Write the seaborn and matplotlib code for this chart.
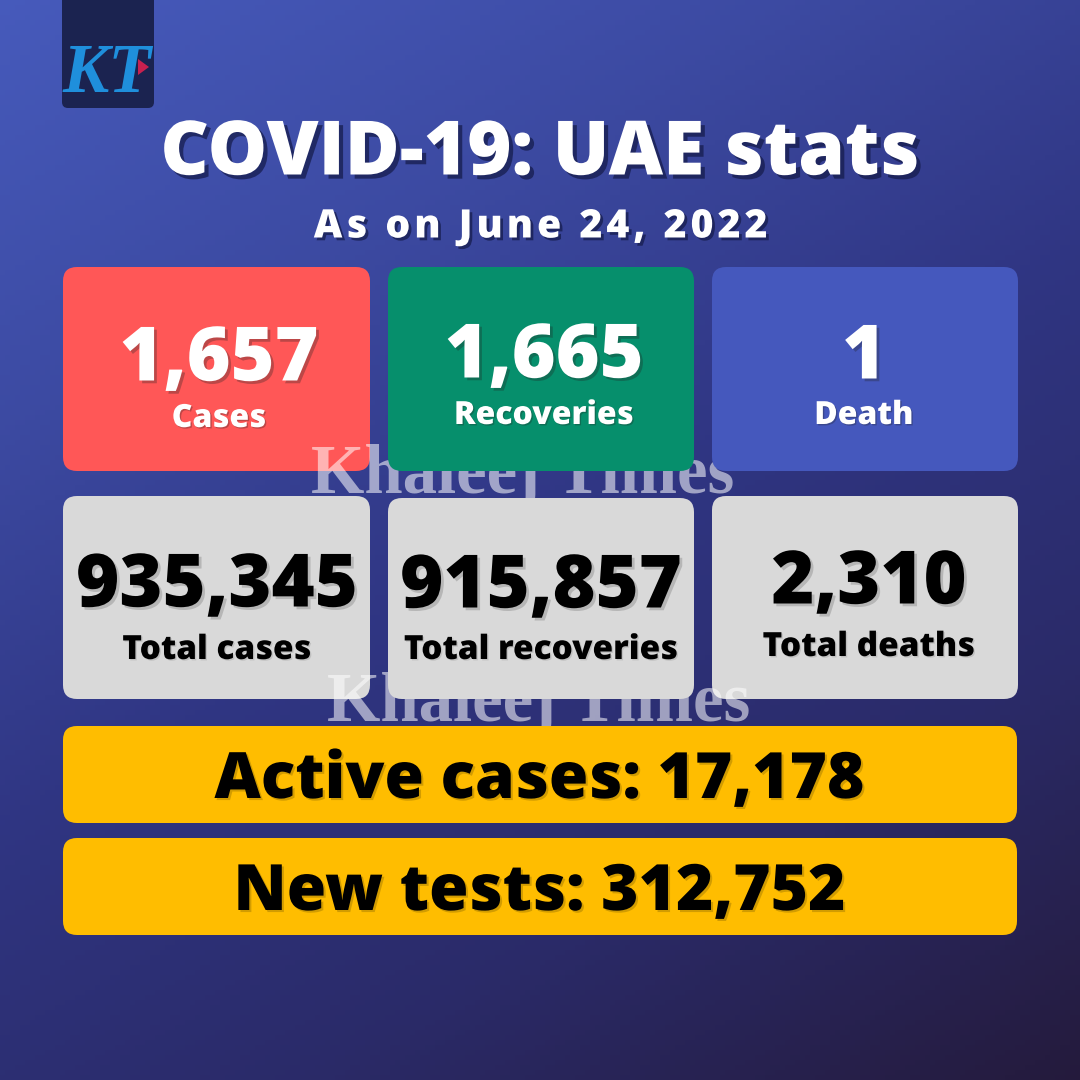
import numpy as np
import pandas as pd
import seaborn as sns
import matplotlib.pyplot as plt
import matplotlib.patheffects as pe
from matplotlib.colors import LinearSegmentedColormap
from matplotlib.patches import FancyBboxPatch, Polygon

title = "COVID-19: UAE stats"
subtitle = "As on June 24, 2022"
daily_values = ["1,657", "1,665", "1"]
daily_labels = ["Cases", "Recoveries", "Death"]
total_values = ["935,345", "915,857", "2,310"]
total_labels = ["Total cases", "Total recoveries", "Total deaths"]
bar_texts = ["Active cases: 17,178", "New tests: 312,752"]
watermark = "Khaleej Times"

sns.set_theme(style="white")
plt.rcParams['font.family'] = ['Open Sans', 'DejaVu Sans']

fig = plt.figure(figsize=(10.8, 10.8), dpi=100)
ax = fig.add_axes([0, 0, 1, 1])

# background gradient, mostly top to bottom with some left to right
grid = np.linspace(0, 1, 216)
xx, yy = np.meshgrid(grid, grid)
grad = pd.DataFrame(0.35 * xx + 0.65 * yy)
cmap = LinearSegmentedColormap.from_list("bg", ["#465ABB", "#3c4aa2", "#2f3582", "#2a2a68", "#241a3c"])
sns.heatmap(grad, ax=ax, cmap=cmap, cbar=False, xticklabels=False, yticklabels=False, vmin=0, vmax=1)

# everything else in pixel coordinates on a second axes
px = fig.add_axes([0, 0, 1, 1], facecolor="none")
px.set_xlim(0, 1080)
px.set_ylim(1080, 0)
px.axis("off")


def card(x0, y0, x1, y1, color, z=2, r=14):
    px.add_patch(FancyBboxPatch((x0 + r, y0 + r), x1 - x0 - 2 * r, y1 - y0 - 2 * r,
                                boxstyle="round,pad=%d,rounding_size=%d" % (r, r),
                                fc=color, ec="none", zorder=z))


def label(x, y, s, size, color, shadow, off=2.0, z=6, alpha=0.3):
    px.text(x, y, s, fontsize=size, color=color, fontweight=800, ha="center", va="center", zorder=z,
            path_effects=[pe.SimplePatchShadow(offset=(off, -off), shadow_rgbFace=shadow, alpha=alpha), pe.Normal()])


def mark(x, y, z):
    px.text(x, y, watermark, fontsize=49.5, family="Liberation Serif", fontweight="bold", color="white", alpha=0.55,
            ha="center", va="baseline", zorder=z)


# logo
card(62, -20, 154, 108, "#1b2350", r=6)
px.text(107, 75, "KT", fontsize=50, family="Liberation Serif", fontweight="bold", style="italic",
        color="#1f8fdc", ha="center", va="center", zorder=3)
px.add_patch(Polygon([[138, 59], [149, 67], [138, 75]], fc="#c8204f", ec="none", zorder=4))

label(540, 155, title, 54, "white", "#141a48", off=3, alpha=0.7)
label(540, 227, "\u200a".join(subtitle), 28.3, "white", "#141a48", off=2, alpha=0.7)

columns = [(63, 370), (388, 694), (712, 1018)]
daily_colors = ["#ff5757", "#068f6c", "#4558bd"]

# red card sits under the watermark, green and blue over it
card(columns[0][0], 267, columns[0][1], 471, daily_colors[0], z=2)
mark(523, 493, 3)
card(columns[1][0], 267, columns[1][1], 471, daily_colors[1], z=4)
card(columns[2][0], 267, columns[2][1], 471, daily_colors[2], z=4)

card(columns[0][0], 496, columns[0][1], 699, "#d9d9d9", z=4.2)
card(columns[2][0], 496, columns[2][1], 699, "#d9d9d9", z=4.2)
mark(539, 721, 4.5)
card(columns[1][0], 498, columns[1][1], 699, "#d9d9d9", z=4.7)

card(63, 726, 1017, 823, "#ffbd00", z=4.8)
card(63, 838, 1017, 935, "#ffbd00", z=4.8)

daily_x = [219, 544, 864]
daily_y = [361, 358, 359]
daily_label_y = [419, 416, 416]
for i in range(3):
    label(daily_x[i], daily_y[i], daily_values[i], 54, "white", "#222222", off=2)
    label(daily_x[i], daily_label_y[i], daily_labels[i], 23, "white", "#222222", off=1)

total_x = [217, 541, 869]
total_y = [587, 588, 584]
total_label_y = [650, 650, 647]
for i in range(3):
    label(total_x[i], total_y[i], total_values[i], 53, "black", "#666666", off=2)
    label(total_x[i], total_label_y[i], total_labels[i], 24, "black", "#888888", off=1)

label(539, 781, bar_texts[0], 46, "black", "#6a5000", off=1.5)
label(539, 893, bar_texts[1], 46, "black", "#6a5000", off=1.5)

fig.savefig("out.png", dpi=100)
